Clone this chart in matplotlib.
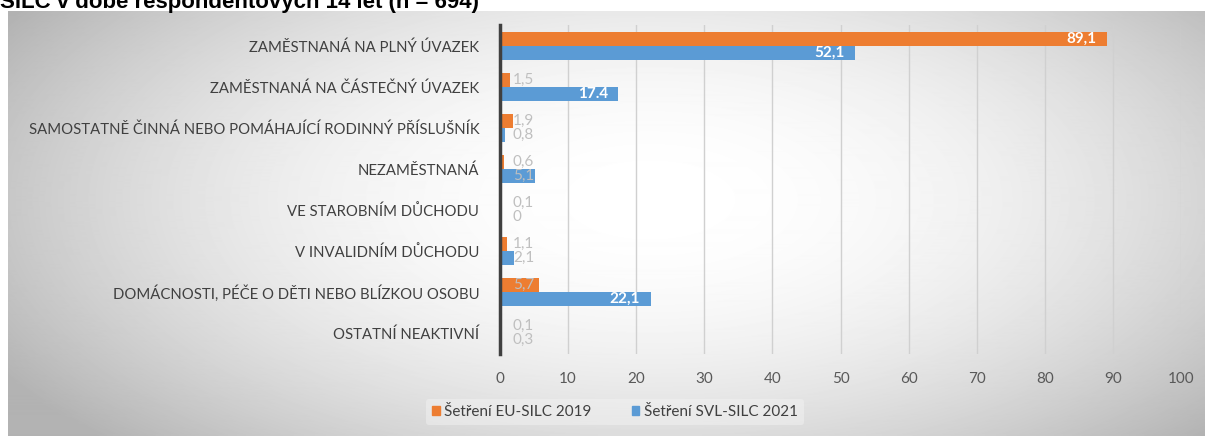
import numpy as np
import matplotlib.pyplot as plt
from matplotlib.patches import Patch

categories = [
    "ZAMĚSTNANÁ NA PLNÝ ÚVAZEK",
    "ZAMĚSTNANÁ NA ČÁSTEČNÝ ÚVAZEK",
    "SAMOSTATNĚ ČINNÁ NEBO POMÁHAJÍCÍ RODINNÝ PŘÍSLUŠNÍK",
    "NEZAMĚSTNANÁ",
    "VE STAROBNÍM DŮCHODU",
    "V INVALIDNÍM DŮCHODU",
    "DOMÁCNOSTI, PÉČE O DĚTI NEBO BLÍZKOU OSOBU",
    "OSTATNÍ NEAKTIVNÍ",
]
eu_2019 = [89.1, 1.5, 1.9, 0.6, 0.1, 1.1, 5.7, 0.1]
svl_2021 = [52.1, 17.4, 0.8, 5.1, 0.0, 2.1, 22.1, 0.3]
eu_labels = ["89,1", "1,5", "1,9", "0,6", "0,1", "1,1", "5,7", "0,1"]
svl_labels = ["52,1", "17.4", "0,8", "5,1", "0", "2,1", "22,1", "0,3"]
series_names = ["Šetření EU-SILC 2019", "Šetření SVL-SILC 2021"]
x_ticks = list(range(0, 101, 10))

orange = "#ED7D31"
blue = "#5B9BD5"
font = "Lato"

W, H = 1205, 436
fig = plt.figure(figsize=(W / 100, H / 100), dpi=100)

# gray radial gradient behind the chart area
bg = fig.add_axes([8 / W, 0, 1 - 8 / W, 1 - 11 / H], zorder=0)
yy, xx = np.mgrid[11:H, 8:W]
r2 = ((xx - 650) / 750.0) ** 2 + ((yy - 200) / 350.0) ** 2
shade = np.clip(1 - 0.3 * r2, 0.7, 1.0)
bg.imshow(shade, cmap="gray", vmin=0, vmax=1, aspect="auto",
          extent=[0, 1, 0, 1], interpolation="bilinear")
bg.axis("off")

# title, its top is cut off in the original too
fig.text(0.0, 1 - 8 / H, "SILC v době respondentových 14 let (n = 694)",
         fontsize=16, fontweight="bold", family="Liberation Sans",
         ha="left", va="baseline")

ax = fig.add_axes([500 / W, 1 - 353.5 / H, 681 / W, 328 / H], zorder=1)
ax.patch.set_alpha(0)

y = np.arange(len(categories))
h = 0.33
ax.barh(y - h / 2, eu_2019, height=h, color=orange, zorder=3)
ax.barh(y + h / 2, svl_2021, height=h, color=blue, zorder=3)

for vals, labs, off in [(eu_2019, eu_labels, -h / 2), (svl_2021, svl_labels, h / 2)]:
    for i, (v, s) in enumerate(zip(vals, labs)):
        if v >= 10:
            ax.text(v - 1.5, i + off, s, color="white", fontsize=11,
                    fontweight="bold", family=font, ha="right", va="center", zorder=4)
        else:
            ax.text(1.9, i + off, s, color="#BFBFBF", fontsize=11,
                    family=font, ha="left", va="center", zorder=4)

ax.set_ylim(len(categories) - 0.5, -0.5)
ax.set_xlim(0, 100)
ax.set_yticks(y)
ax.set_yticklabels(categories, family=font, fontsize=10.7, color="#404040")
ax.set_xticks(x_ticks)
ax.set_xticklabels([str(t) for t in x_ticks], family=font, fontsize=11, color="#595959")
ax.tick_params(axis="y", length=0, pad=15)
ax.tick_params(axis="x", length=0, pad=13)
ax.grid(axis="x", color="#D0D0D0", linewidth=1, zorder=0)
for s in ["top", "right", "bottom"]:
    ax.spines[s].set_visible(False)
ax.spines["left"].set_color("#404040")
ax.spines["left"].set_linewidth(2.5)
ax.spines["left"].set_zorder(5)

handles = [Patch(color=orange), Patch(color=blue)]
leg = fig.legend(handles, series_names, loc="center", bbox_to_anchor=(615 / W, 1 - 412 / H),
                 ncol=2, frameon=True, prop={"family": font, "size": 11},
                 handlelength=0.5, handleheight=0.6, handletextpad=0.3, columnspacing=2.6)
leg.get_frame().set_facecolor("#F2F2F2")
leg.get_frame().set_alpha(0.5)
leg.get_frame().set_edgecolor("none")
for t in leg.get_texts():
    t.set_color("#404040")

fig.savefig("out.png", dpi=100)
